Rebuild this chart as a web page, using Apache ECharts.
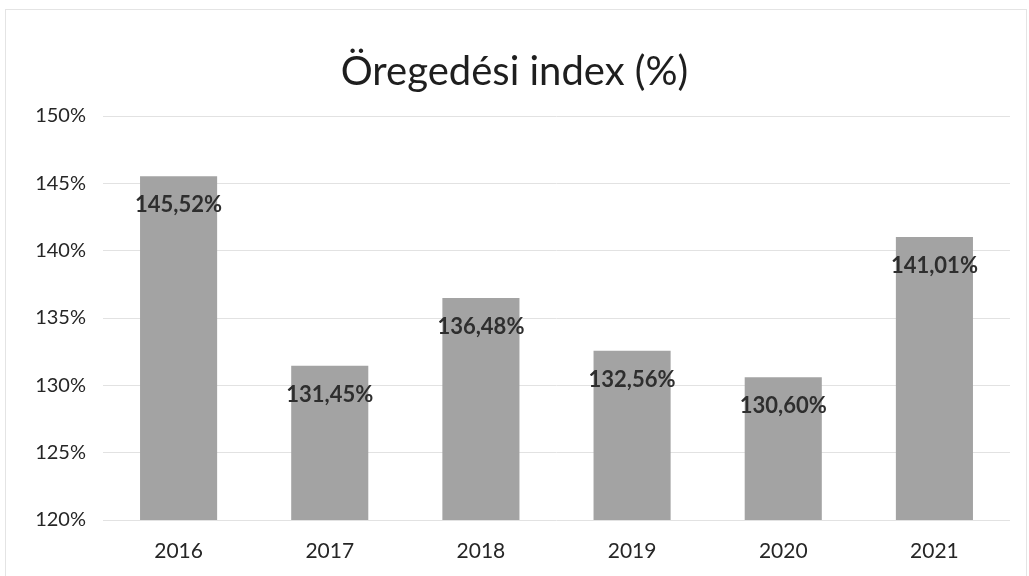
<!DOCTYPE html>
<html>
<head>
<meta charset="utf-8">
<script src="https://cdn.jsdelivr.net/npm/echarts@6/dist/echarts.min.js"></script>
<style>
html,body{margin:0;padding:0;background:#fff;}
#wrap{position:absolute;left:5px;top:9px;width:1022px;height:580px;border:1px solid #e4e4e4;box-sizing:border-box;}
#chart{position:absolute;left:0;top:0;width:1029px;height:576px;}
</style>
</head>
<body>
<div id="wrap"></div>
<div id="chart"></div>
<script>
const title = "Öregedési index (%)";
const categories = ["2016", "2017", "2018", "2019", "2020", "2021"];
const values = [145.52, 131.45, 136.48, 132.56, 130.60, 141.01];
const yTicks = [120, 125, 130, 135, 140, 145, 150];

const fmt = v => v.toFixed(2).replace('.', ',') + '%';
const font = "Lato, 'Open Sans', sans-serif";

const chart = echarts.init(document.getElementById('chart'), null, {renderer: 'canvas'});
chart.setOption({
  backgroundColor: 'transparent',
  animation: false,
  title: {
    text: title,
    left: 'center',
    top: 47,
    textStyle: {fontFamily: font, fontSize: 40, fontWeight: 'normal', color: '#1e1e1e'}
  },
  grid: {left: 103, right: 19, top: 116, bottom: 56, containLabel: false},
  xAxis: {
    type: 'category',
    data: categories,
    axisLine: {show: false},
    axisTick: {show: false},
    axisLabel: {fontFamily: font, fontSize: 21, color: '#262626', margin: 21}
  },
  yAxis: {
    type: 'value',
    min: yTicks[0],
    max: yTicks[yTicks.length - 1],
    interval: 5,
    axisLine: {show: false},
    axisTick: {show: false},
    axisLabel: {fontFamily: font, fontSize: 20, color: '#262626', margin: 17, formatter: v => v + '%'},
    splitLine: {lineStyle: {color: '#e2e2e2', width: 1}}
  },
  series: [{
    type: 'bar',
    barWidth: '51%',
    itemStyle: {color: '#a3a3a3'},
    label: {
      show: true,
      position: 'insideTop',
      distance: 18,
      fontFamily: font,
      fontSize: 22,
      fontWeight: 'bold',
      color: '#2e2e2e',
      formatter: p => fmt(p.value)
    },
    data: values
  }]
});
</script>
</body>
</html>
